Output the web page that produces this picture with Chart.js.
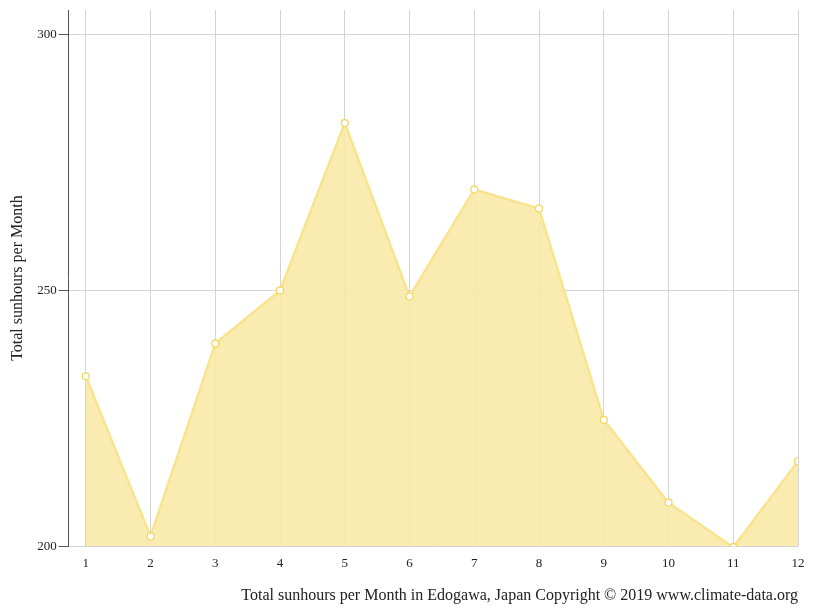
<!DOCTYPE html>
<html>
<head>
<meta charset="utf-8">
<script src="https://cdn.jsdelivr.net/npm/chart.js@4"></script>
<style>
  html, body { margin: 0; padding: 0; background: #fff; }
  #wrap { width: 815px; height: 611px; }
</style>
</head>
<body>
<div id="wrap"><canvas id="chart"></canvas></div>
<script>
// Данные графика
const months = [1, 2, 3, 4, 5, 6, 7, 8, 9, 10, 11, 12];
const sunhours = [233.2, 201.9, 239.6, 250, 282.7, 248.8, 269.7, 266, 224.7, 208.5, 199.8, 216.6];
const yTicks = [200, 250, 300];

const points = months.map((m, i) => ({ x: m, y: sunhours[i] }));

new Chart(document.getElementById('chart'), {
    type: 'line',
    data: {
        datasets: [{
            data: points,
            borderColor: '#f8e48e',
            backgroundColor: 'rgba(249, 234, 168, 0.9)',
            borderWidth: 2.5,
            fill: 'start',
            tension: 0,
            pointRadius: 3.5,
            pointBackgroundColor: '#ffffff',
            pointBorderColor: '#f2d55a',
            pointBorderWidth: 1.2
        }]
    },
    options: {
        responsive: true,
        maintainAspectRatio: false,
        animation: false,
        layout: { padding: { top: 10, right: 17, left: 4, bottom: 2 } },
        plugins: { legend: { display: false }, tooltip: { enabled: false } },
        scales: {
            x: {
                type: 'linear',
                min: 0.736,
                max: 12,
                afterBuildTicks: axis => { axis.ticks = months.map(v => ({ value: v })); },
                grid: { color: '#d4d4d4', drawTicks: false },
                border: { display: false },
                ticks: { color: '#222', padding: 10, font: { family: 'Liberation Serif', size: 13 } },
                title: {
                    display: true,
                    align: 'end',
                    text: 'Total sunhours per Month in Edogawa, Japan Copyright © 2019 www.climate-data.org',
                    color: '#222',
                    font: { family: 'Liberation Serif', size: 16 },
                    padding: { top: 4 }
                }
            },
            y: {
                min: 200,
                max: 304.8,
                afterBuildTicks: axis => { axis.ticks = yTicks.map(v => ({ value: v })); },
                grid: { color: '#d4d4d4', tickColor: '#555', tickLength: 10 },
                border: { display: true, color: '#555', width: 1 },
                ticks: { color: '#222', padding: 2, font: { family: 'Liberation Serif', size: 13 } },
                title: {
                    display: true,
                    text: 'Total sunhours per Month',
                    color: '#222',
                    font: { family: 'Liberation Serif', size: 16 },
                    padding: { bottom: 8 }
                }
            }
        }
    }
});
</script>
</body>
</html>
